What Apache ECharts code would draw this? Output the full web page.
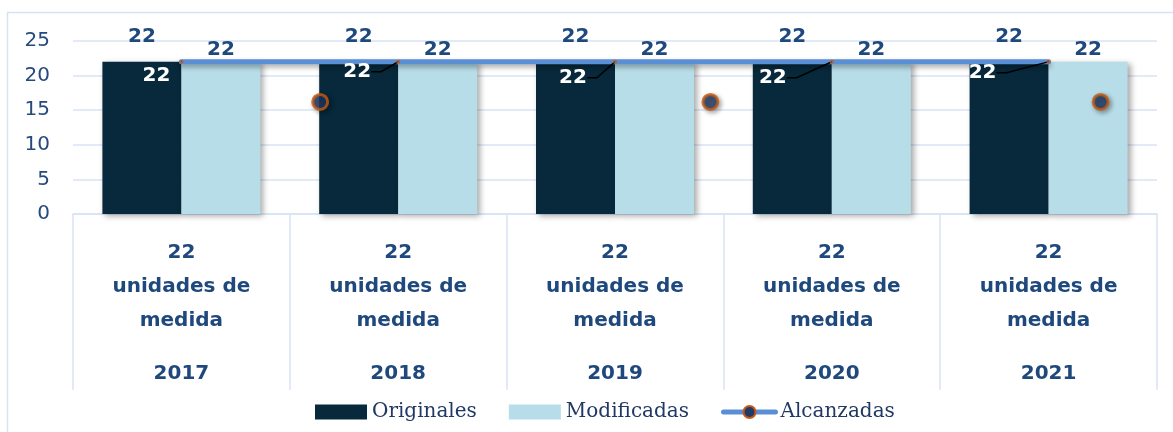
<!DOCTYPE html>
<html>
<head>
<meta charset="utf-8">
<script src="https://cdn.jsdelivr.net/npm/echarts@6/dist/echarts.min.js"></script>
<style>
html, body { margin: 0; padding: 0; background: #fff; }
#chart { width: 1173px; height: 432px; }
</style>
</head>
<body>
<div id="chart"></div>
<script>
var anios = ['2017', '2018', '2019', '2020', '2021'];
var unidades = [22, 22, 22, 22, 22];
var originales = [22, 22, 22, 22, 22];
var modificadas = [22, 22, 22, 22, 22];
var alcanzadas = [22, 22, 22, 22, 22];
// marcadores de Alcanzadas que en la imagen quedaron sueltos: [posición sobre las categorías, valor]
var alcanzadasMarcas = [[1.14, 16.2], [2.94, 16.2], [4.74, 16.2]];
var yTicks = [0, 5, 10, 15, 20, 25];

// desplazamiento de las etiquetas blancas de la línea (px)
var desplazEtiq = [[-25, 14], [-41, 10], [-42, 16], [-59, 16], [-66, 11]];

var azul = '#1f497d';
var rejilla = '#d7e3f4';

var myChart = echarts.init(document.getElementById('chart'));
var option = {
	animation: false,
	graphic: [{
		type: 'rect',
		z: -10,
		shape: { x: 7.5, y: 12.5, width: 1200, height: 500 },
		style: { fill: 'none', stroke: rejilla, lineWidth: 1.5 }
	}],
	legend: {
		left: 310,
		top: 397,
		itemWidth: 52,
		itemHeight: 15,
		itemGap: 32,
		textStyle: { fontFamily: 'DejaVu Serif', fontSize: 20, color: '#1f3864' },
		data: [
			{ name: 'Originales', icon: 'rect' },
			{ name: 'Modificadas', icon: 'rect' },
			{ name: 'Alcanzadas', lineStyle: { width: 5, color: '#5a8fd6' } }
		]
	},
	grid: { left: 73, right: 16, top: 41, bottom: 218 },
	xAxis: [{
		type: 'category',
		data: anios,
		axisLine: { lineStyle: { color: rejilla, width: 1.5 } },
		axisTick: { show: true, length: 176, lineStyle: { color: rejilla, width: 1.5 } },
		axisLabel: {
			margin: 22,
			formatter: function (v, i) {
				return '{a|' + unidades[i] + '}\n{a|unidades de}\n{a|medida}\n{y|' + v + '}';
			},
			rich: {
				a: { fontFamily: 'DejaVu Sans', fontWeight: 'bold', fontSize: 20, color: azul, lineHeight: 34 },
				y: { fontFamily: 'DejaVu Sans', fontWeight: 'bold', fontSize: 20, color: azul, lineHeight: 72 }
			}
		}
	}, {
		type: 'value',
		show: false,
		min: 0,
		max: anios.length
	}],
	yAxis: {
		type: 'value',
		min: yTicks[0],
		max: yTicks[yTicks.length - 1],
		interval: yTicks[1] - yTicks[0],
		axisLine: { show: false },
		axisTick: { show: false },
		splitLine: { lineStyle: { color: rejilla, width: 1.5 } },
		axisLabel: { fontFamily: 'DejaVu Sans', fontSize: 20, color: '#264a7d', margin: 23 }
	},
	series: [
		{
			name: 'Originales',
			type: 'bar',
			data: originales,
			barWidth: 79,
			barGap: '0%',
			itemStyle: { color: '#07293b', shadowBlur: 6, shadowOffsetX: 3, shadowOffsetY: 2, shadowColor: 'rgba(0,0,0,0.35)' },
			label: { show: true, position: 'top', distance: 15, fontFamily: 'DejaVu Sans', fontWeight: 'bold', fontSize: 20, color: azul }
		},
		{
			name: 'Modificadas',
			type: 'bar',
			data: modificadas,
			barWidth: 79,
			barGap: '0%',
			itemStyle: { color: '#b7dde8', shadowBlur: 6, shadowOffsetX: 3, shadowOffsetY: 2, shadowColor: 'rgba(0,0,0,0.35)' },
			label: { show: true, position: 'top', distance: 2, fontFamily: 'DejaVu Sans', fontWeight: 'bold', fontSize: 20, color: azul }
		},
		{
			name: 'Alcanzadas',
			type: 'line',
			data: alcanzadas.map(function (v, i) {
				return i === 0 ? { value: v, labelLine: { show: false } } : v;
			}),
			z: 5,
			symbol: 'circle',
			symbolSize: 1,
			lineStyle: { color: '#5a8fd6', width: 5, cap: 'round', shadowBlur: 5, shadowOffsetY: 3, shadowColor: 'rgba(0,0,0,0.35)' },
			itemStyle: { color: '#1f3a68', borderColor: '#c55a11', borderWidth: 3 },
			label: { show: true, position: 'inside', fontFamily: 'DejaVu Sans', fontWeight: 'bold', fontSize: 20, color: '#fff' },
			labelLine: { show: true, length2: 10, lineStyle: { color: '#000', width: 1.5 } },
			labelLayout: function (p) {
				var d = desplazEtiq[p.dataIndex];
				return { dx: d[0], dy: d[1] };
			}
		},
		{
			name: 'Alcanzadas',
			type: 'scatter',
			xAxisIndex: 1,
			data: alcanzadasMarcas,
			z: 6,
			symbolSize: 15,
			itemStyle: { color: '#1f3a68', borderColor: '#c55a11', borderWidth: 3, shadowBlur: 5, shadowOffsetX: 2, shadowOffsetY: 2, shadowColor: 'rgba(0,0,0,0.4)' }
		}
	]
};
myChart.setOption(option);
</script>
</body>
</html>
